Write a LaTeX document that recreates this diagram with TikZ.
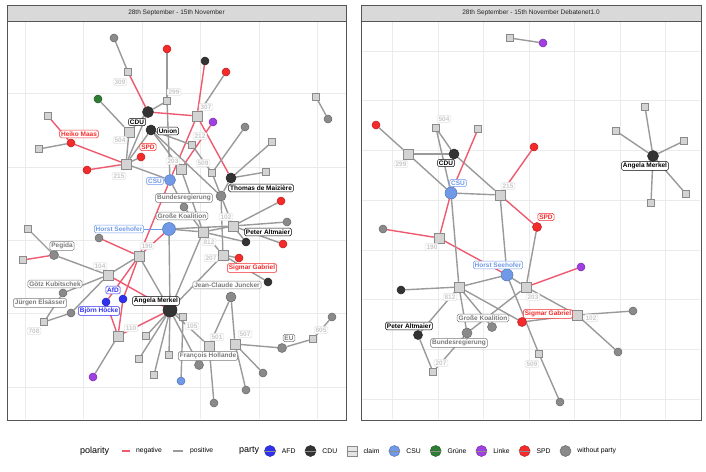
\documentclass[tikz,border=0pt]{standalone}
\usepackage{fontspec}
\setmainfont{Liberation Sans}
\usetikzlibrary{positioning}
\pgfdeclarelayer{back}
\pgfdeclarelayer{edges}
\pgfsetlayers{back,edges,main}

\definecolor{negcol}{HTML}{EE5A6F}
\definecolor{poscol}{HTML}{9A9A9A}
\definecolor{afdcol}{HTML}{3030F0}
\definecolor{cducol}{HTML}{333333}
\definecolor{csucol}{HTML}{7099E8}
\definecolor{gruencol}{HTML}{2E7D32}
\definecolor{linkecol}{HTML}{A040E0}
\definecolor{spdcol}{HTML}{F52A2A}
\definecolor{nopcol}{HTML}{8A8A8A}
\definecolor{claimfill}{HTML}{D3D3D3}
\definecolor{claimdraw}{HTML}{8A8A8A}
\definecolor{numtext}{HTML}{C8C8C8}
\definecolor{numdraw}{HTML}{E2E2E2}
\definecolor{gridcol}{HTML}{EBEBEB}
\definecolor{stripcol}{HTML}{D9D9D9}
\definecolor{framecol}{HTML}{555555}
\definecolor{greytext}{HTML}{7A7A7A}

\tikzset{
  claim/.style={rectangle, draw=claimdraw, fill=claimfill, line width=0.5pt, minimum size=7pt, inner sep=0pt},
  bigclaim/.style={claim, minimum size=10pt},
  party/.style={circle, draw=#1!75!black, fill=#1, line width=0.5pt, minimum size=8pt, inner sep=0pt},
  negline/.style={draw=negcol, line width=1.4pt},
  posline/.style={draw=poscol, line width=1.4pt},
  tag/.style={draw=#1, text=#1, fill=white, rounded corners=1.5pt, line width=0.5pt,
    font=\bfseries\fontsize{6.5}{7}\selectfont, inner sep=1.4pt},
  numtag/.style={tag=numtext, draw=numdraw},
  gridline/.style={draw=gridcol, line width=0.6pt},
  legtext/.style={font=\fontsize{6.8}{7}\selectfont, inner sep=0pt, anchor=west},
  legtitle/.style={font=\fontsize{9}{10}\selectfont, inner sep=0pt, anchor=west},
  legkey/.style={minimum size=11pt, right=9pt of #1},
  keybar/.style={draw=black!45, line width=0.4pt},
}

\begin{document}
\begin{tikzpicture}[x=1pt,y=-1pt]
\useasboundingbox (0,0) rectangle (706,471);

% panels and grid
\begin{pgfonlayer}{back}
\fill[white] (0,0) rectangle (706,471);
\draw[gridline] (25,21) -- (25,419);
\draw[gridline] (83,21) -- (83,419);
\draw[gridline] (142,21) -- (142,419);
\draw[gridline] (200,21) -- (200,419);
\draw[gridline] (259,21) -- (259,419);
\draw[gridline] (317,21) -- (317,419);
\draw[gridline] (8,93) -- (346,93);
\draw[gridline] (8,167) -- (346,167);
\draw[gridline] (8,240) -- (346,240);
\draw[gridline] (8,313) -- (346,313);
\draw[gridline] (8,387) -- (346,387);
\draw[gridline] (392,21) -- (392,419);
\draw[gridline] (438,21) -- (438,419);
\draw[gridline] (483,21) -- (483,419);
\draw[gridline] (529,21) -- (529,419);
\draw[gridline] (574,21) -- (574,419);
\draw[gridline] (620,21) -- (620,419);
\draw[gridline] (665,21) -- (665,419);
\draw[gridline] (362,51) -- (700,51);
\draw[gridline] (362,100) -- (700,100);
\draw[gridline] (362,150) -- (700,150);
\draw[gridline] (362,200) -- (700,200);
\draw[gridline] (362,250) -- (700,250);
\draw[gridline] (362,299) -- (700,299);
\draw[gridline] (362,349) -- (700,349);
\draw[gridline] (362,399) -- (700,399);
\draw[framecol, line width=0.8pt] (7,5) rectangle (346,420);
\draw[framecol, line width=0.8pt, fill=stripcol] (7,5) rectangle (346,21);
\draw[framecol, line width=0.8pt] (361,5) rectangle (701,420);
\draw[framecol, line width=0.8pt, fill=stripcol] (361,5) rectangle (701,21);
\end{pgfonlayer}
\node[font=\fontsize{6.5}{7}\selectfont, text=black!85] (headl) at (176.5,13) {28th September - 15th November};
\node[font=\fontsize{6.5}{7}\selectfont, text=black!85] (headr) at (531,13) {28th September - 15th November Debatenet1.0};

% left panel nodes
\node[party=nopcol] (g1) at (114,38) {};
\node[party=spdcol] (r1) at (167,49) {};
\node[party=cducol] (k1) at (205,61) {};
\node[party=spdcol] (r2) at (226,72) {};
\node[claim] (c309) at (128,72) {};
\node[claim] (c299) at (167,101) {};
\node[party=gruencol] (gr1) at (98,99) {};
\node[party=cducol, minimum size=11pt] (cdu) at (148,112) {};
\node[bigclaim] (c307) at (197,116) {};
\node[party=linkecol] (p1) at (213,122) {};
\node[party=nopcol] (g2) at (245,127) {};
\node[claim] (s1) at (316,97) {};
\node[party=nopcol] (g3) at (328,119) {};
\node[claim] (s2) at (48,116) {};
\node[party=cducol, minimum size=10pt] (union) at (151,130) {};
\node[bigclaim] (c504) at (129,132) {};
\node[claim] (c212) at (192,145) {};
\node[party=spdcol] (heiko) at (71,143) {};
\node[claim] (s3) at (39,149) {};
\node[party=spdcol] (spd) at (141,157) {};
\node[bigclaim] (c215) at (126,164) {};
\node[party=spdcol] (r3) at (87,170) {};
\node[bigclaim] (c203) at (181,169) {};
\node[claim] (c509) at (212,173) {};
\node[party=cducol, minimum size=10pt] (thomas) at (231,178) {};
\node[claim] (s4) at (272,142) {};
\node[claim] (s5) at (266,172) {};
\node[party=csucol, minimum size=11pt] (csu) at (170,180) {};
\node[party=nopcol, minimum size=10pt] (bund) at (221,196) {};
\node[party=nopcol] (g4) at (184,207) {};
\node[party=spdcol] (r4) at (281,201) {};
\node[bigclaim] (c102) at (233,226) {};
\node[party=nopcol] (g5) at (287,222) {};
\node[party=csucol, minimum size=13pt] (horst) at (169,229) {};
\node[bigclaim] (c812) at (203,232) {};
\node[party=cducol] (peter) at (246,242) {};
\node[party=spdcol] (r5) at (283,244) {};
\node[claim] (s6) at (28,229) {};
\node[party=nopcol] (g6) at (99,238) {};
\node[party=nopcol, minimum size=9pt] (pegida) at (54,255) {};
\node[claim] (s7) at (23,260) {};
\node[bigclaim] (c190) at (139,256) {};
\node[bigclaim] (c207) at (223,255) {};
\node[party=spdcol] (sigmar) at (239,258) {};
\node[bigclaim] (c104) at (108,275) {};
\node[party=cducol] (k2) at (268,282) {};
\node[party=nopcol, minimum size=10pt] (juncker) at (231,297) {};
\node[party=nopcol] (goetz) at (63,293) {};
\node[party=afdcol] (afd) at (123,299) {};
\node[party=afdcol] (hoecke) at (106,302) {};
\node[party=cducol, minimum size=14pt] (merkel) at (170,310) {};
\node[party=nopcol] (juergen) at (71,313) {};
\node[claim] (c105) at (183,317) {};
\node[claim] (c708) at (44,322) {};
\node[party=nopcol] (g7) at (332,317) {};
\node[bigclaim] (c110) at (118,336) {};
\node[claim] (s8) at (146,336) {};
\node[bigclaim] (c501) at (209,346) {};
\node[bigclaim] (c507) at (235,344) {};
\node[party=nopcol, minimum size=9pt] (eu) at (282,348) {};
\node[claim] (c805) at (313,339) {};
\node[claim] (s9) at (139,359) {};
\node[claim] (s10) at (169,355) {};
\node[party=nopcol, minimum size=9pt] (hollande) at (199,365) {};
\node[party=nopcol] (g8) at (263,373) {};
\node[claim] (s11) at (154,375) {};
\node[party=linkecol] (p2) at (93,377) {};
\node[party=csucol] (b1) at (181,381) {};
\node[party=nopcol] (g9) at (246,390) {};
\node[party=nopcol] (g10) at (214,403) {};

% left panel edges
\begin{pgfonlayer}{edges}
\draw[posline] (g1) -- (c309);
\draw[negline] (c309) -- (cdu);
\draw[posline] (r1) -- (c299);
\draw[posline] (c299) -- (cdu);
\draw[posline] (c299) -- (csu);
\draw[negline] (k1) -- (c307);
\draw[posline] (r2) -- (c307);
\draw[negline] (cdu) -- (c307);
\draw[negline] (c307) -- (thomas);
\draw[negline] (c307) -- (csu);
\draw[negline] (p1) -- (c203);
\draw[posline] (gr1) -- (c504);
\draw[posline] (g2) -- (c509);
\draw[posline] (s4) -- (thomas);
\draw[posline] (s5) -- (thomas);
\draw[posline] (s1) -- (g3);
\draw[negline] (heiko) -- (s2);
\draw[posline] (heiko) -- (s3);
\draw[negline] (heiko) -- (c215);
\draw[negline] (r3) -- (c215);
\draw[posline] (spd) -- (c215);
\draw[posline] (c215) -- (cdu);
\draw[posline] (c504) -- (cdu);
\draw[posline] (c504) -- (c215);
\draw[posline] (c215) -- (union);
\draw[posline] (union) -- (c212);
\draw[posline] (union) -- (c203);
\draw[posline] (union) -- (bund);
\draw[posline] (c215) -- (csu);
\draw[posline] (c212) -- (c509);
\draw[posline] (c509) -- (bund);
\draw[posline] (bund) -- (thomas);
\draw[posline] (c203) -- (c812);
\draw[posline] (csu) -- (g4);
\draw[posline] (g4) -- (c812);
\draw[posline] (horst) -- (c812);
\draw[negline] (horst) -- (c190);
\draw[posline] (horst) -- (merkel);
\draw[posline] (horst) -- (c102);
\draw[negline] (csu) -- (c190);
\draw[negline] (g6) -- (c190);
\draw[posline] (c190) -- (c104);
\draw[negline] (c190) -- (afd);
\draw[negline] (c190) -- (hoecke);
\draw[posline] (c190) -- (merkel);
\draw[negline] (c104) -- (merkel);
\draw[posline] (c104) -- (goetz);
\draw[posline] (c104) -- (juergen);
\draw[posline] (pegida) -- (s6);
\draw[negline] (pegida) -- (s7);
\draw[posline] (pegida) -- (c104);
\draw[posline] (juergen) -- (c708);
\draw[posline] (goetz) -- (c708);
\draw[negline] (afd) -- (c110);
\draw[negline] (hoecke) -- (c110);
\draw[negline] (c110) -- (merkel);
\draw[posline] (c110) -- (p2);
\draw[posline] (merkel) -- (s8);
\draw[posline] (merkel) -- (s9);
\draw[posline] (merkel) -- (s10);
\draw[posline] (merkel) -- (s11);
\draw[posline] (merkel) -- (c105);
\draw[posline] (merkel) -- (c501);
\draw[posline] (merkel) -- (hollande);
\draw[posline] (merkel) -- (c812);
\draw[posline] (merkel) -- (c207);
\draw[posline] (c105) -- (b1);
\draw[posline] (juncker) -- (c501);
\draw[posline] (juncker) -- (c507);
\draw[posline] (c507) -- (eu);
\draw[posline] (eu) -- (c805);
\draw[posline] (c805) -- (g7);
\draw[posline] (c507) -- (g8);
\draw[posline] (c507) -- (g9);
\draw[posline] (c501) -- (g10);
\draw[posline] (c102) -- (g5);
\draw[posline] (c102) -- (r4);
\draw[posline] (c102) -- (peter);
\draw[posline] (c102) -- (r5);
\draw[posline] (c812) -- (peter);
\draw[posline] (c812) -- (c102);
\draw[posline] (c207) -- (sigmar);
\draw[posline] (c207) -- (k2);
\draw[posline] (c812) -- (c207);
\draw[posline] (bund) -- (c207);
\draw[posline] (bund) -- (c102);
\end{pgfonlayer}

% left panel labels
\node[numtag] (t309) at (120,82) {309};
\node[numtag] (t299) at (174,92) {299};
\node[numtag] (t307) at (206,107) {307};
\node[tag=black] (tcdu) at (137,122) {CDU};
\node[tag=black] (tunion) at (168,131) {Union};
\node[numtag] (t504) at (120,140) {504};
\node[tag=spdcol] (theiko) at (79,134) {Heiko Maas};
\node[numtag] (t212) at (200,136) {212};
\node[tag=spdcol] (tspd) at (148,147) {SPD};
\node[numtag] (t215) at (119,176) {215};
\node[numtag] (t203) at (173,161) {203};
\node[numtag] (t509) at (203,163) {509};
\node[tag=csucol] (tcsu) at (155,181) {CSU};
\node[tag=black] (tthomas) at (261,188) {Thomas de Maizière};
\node[tag=greytext] (tbund) at (184,198) {Bundesregierung};
\node[tag=greytext] (tgk) at (182,216) {Große Koalition};
\node[numtag] (t102) at (226,217) {102};
\node[tag=csucol] (thorst) at (119,229) {Horst Seehofer};
\node[numtag] (t812) at (209,242) {812};
\node[tag=black] (tpeter) at (268,232) {Peter Altmaier};
\node[tag=greytext] (tpegida) at (62,246) {Pegida};
\node[numtag] (t190) at (147,246) {190};
\node[numtag] (t207) at (211,258) {207};
\node[tag=spdcol] (tsigmar) at (252,268) {Sigmar Gabriel};
\node[numtag] (t104) at (100,266) {104};
\node[tag=greytext] (tjuncker) at (227,285) {Jean-Claude Juncker};
\node[tag=greytext] (tgoetz) at (55,284) {Götz Kubitschek};
\node[tag=afdcol] (tafd) at (113,290) {AfD};
\node[tag=black] (tmerkel) at (156,301) {Angela Merkel};
\node[tag=greytext] (tjuergen) at (40,303) {Jürgen Elsässer};
\node[tag=afdcol] (thoecke) at (99,311) {Björn Höcke};
\node[numtag] (t708) at (34,331) {708};
\node[numtag] (t110) at (131,328) {110};
\node[numtag] (t105) at (192,326) {105};
\node[numtag] (t501) at (217,337) {501};
\node[numtag] (t507) at (245,334) {507};
\node[tag=greytext] (teu) at (289,338) {EU};
\node[numtag] (t805) at (321,330) {805};
\node[tag=greytext] (thollande) at (208,356) {François Hollande};
\draw[csucol, line width=0.5pt] (thorst) -- (horst);

% right panel nodes
\node[claim] (rt1) at (510,38) {};
\node[party=linkecol] (rtp) at (543,43) {};
\node[party=spdcol] (rr1) at (376,125) {};
\node[claim] (rc504) at (436,128) {};
\node[claim] (rs1) at (478,129) {};
\node[party=spdcol] (rr2) at (534,147) {};
\node[bigclaim] (rc299) at (408,154) {};
\node[party=cducol, minimum size=10pt] (rcdu) at (454,154) {};
\node[party=csucol, minimum size=12pt] (rcsu) at (451,193) {};
\node[bigclaim] (rc215) at (500,195) {};
\node[claim] (rm1) at (645,107) {};
\node[claim] (rm2) at (616,131) {};
\node[claim] (rm3) at (684,141) {};
\node[party=cducol, minimum size=11pt] (rmerkel) at (653,156) {};
\node[claim] (rm4) at (686,194) {};
\node[claim] (rm5) at (651,203) {};
\node[party=spdcol, minimum size=9pt] (rspd) at (537,227) {};
\node[party=nopcol] (rg1) at (383,229) {};
\node[bigclaim] (rc190) at (439,238) {};
\node[party=csucol, minimum size=12pt] (rhorst) at (507,275) {};
\node[party=linkecol] (rp1) at (581,267) {};
\node[party=cducol] (rk1) at (401,290) {};
\node[bigclaim] (rc812) at (459,287) {};
\node[bigclaim] (rc203) at (526,287) {};
\node[party=cducol, minimum size=9pt] (rpeter) at (418,335) {};
\node[claim] (rc207) at (433,372) {};
\node[party=nopcol, minimum size=10pt] (rbund) at (467,333) {};
\node[party=nopcol, minimum size=9pt] (rgk) at (492,327) {};
\node[party=spdcol, minimum size=9pt] (rsigmar) at (522,322) {};
\node[bigclaim] (rc102) at (577,315) {};
\node[party=nopcol] (rg2) at (633,311) {};
\node[party=nopcol] (rg3) at (618,352) {};
\node[claim] (rc509) at (539,354) {};
\node[party=nopcol] (rg4) at (560,402) {};

% right panel edges
\begin{pgfonlayer}{edges}
\draw[posline] (rt1) -- (rtp);
\draw[posline] (rr1) -- (rc299);
\draw[posline] (rc299) -- (rcdu);
\draw[posline] (rc299) -- (rcsu);
\draw[posline] (rc504) -- (rcdu);
\draw[posline] (rc504) -- (rcsu);
\draw[posline] (rcdu) -- (rc215);
\draw[negline] (rs1) -- (rcsu);
\draw[negline] (rr2) -- (rc215);
\draw[posline] (rcsu) -- (rc215);
\draw[negline] (rc215) -- (rspd);
\draw[posline] (rmerkel) -- (rm1);
\draw[posline] (rmerkel) -- (rm2);
\draw[posline] (rmerkel) -- (rm3);
\draw[posline] (rmerkel) -- (rm4);
\draw[posline] (rmerkel) -- (rm5);
\draw[negline] (rcsu) -- (rc190);
\draw[negline] (rg1) -- (rc190);
\draw[negline] (rc190) -- (rhorst);
\draw[posline] (rcsu) -- (rc812);
\draw[posline] (rc215) -- (rhorst);
\draw[posline] (rhorst) -- (rc812);
\draw[posline] (rhorst) -- (rc203);
\draw[posline] (rhorst) -- (rc509);
\draw[posline] (rc509) -- (rg4);
\draw[negline] (rp1) -- (rc203);
\draw[posline] (rspd) -- (rc203);
\draw[posline] (rk1) -- (rc812);
\draw[posline] (rc812) -- (rpeter);
\draw[posline] (rpeter) -- (rc207);
\draw[posline] (rc203) -- (rbund);
\draw[posline] (rbund) -- (rc207);
\draw[posline] (rc812) -- (rgk);
\draw[posline] (rc812) -- (rsigmar);
\draw[posline] (rc812) -- (rbund);
\draw[posline] (rsigmar) -- (rc102);
\draw[posline] (rc102) -- (rg2);
\draw[posline] (rc203) -- (rc102);
\draw[posline] (rc102) -- (rg3);
\end{pgfonlayer}

% right panel labels
\node[numtag] (rt504) at (444,119) {504};
\node[numtag] (rt299) at (401,164) {299};
\node[tag=black] (rtcdu) at (446,163) {CDU};
\node[tag=csucol] (rtcsu) at (458,183) {CSU};
\node[numtag] (rt215) at (508,186) {215};
\node[tag=black] (rtmerkel) at (645,166) {Angela Merkel};
\node[tag=spdcol] (rtspd) at (546,217) {SPD};
\node[numtag] (rt190) at (432,247) {190};
\node[tag=csucol] (rthorst) at (498,265) {Horst Seehofer};
\node[numtag] (rt812) at (450,297) {812};
\node[numtag] (rt203) at (533,297) {203};
\node[tag=black] (rtpeter) at (409,326) {Peter Altmaier};
\node[tag=greytext] (rtgk) at (483,318) {Große Koalition};
\node[tag=spdcol] (rtsigmar) at (548,314) {Sigmar Gabriel};
\node[numtag] (rt102) at (591,318) {102};
\node[tag=greytext] (rtbund) at (459,343) {Bundesregierung};
\node[numtag] (rt207) at (441,363) {207};
\node[numtag] (rt509) at (532,364) {509};

% legend
\node[legtitle] (polarity) at (80,451) {polarity};
\draw[negcol, line width=1.2pt] (122,451) -- (130,451);
\node[legtext] (negative) at (136,451) {negative};
\draw[poscol, line width=1.2pt] (173,451) -- (183,451);
\node[legtext] (positive) at (190,451) {positive};
\node[legtitle] (partytitle) at (239,451) {party};
\node[party=afdcol, minimum size=11pt] (kafd) at (270,451) {};
\node[legtext, right=6pt of kafd] (lafd) {AFD};
\node[party=cducol, legkey=lafd] (kcdu) {};
\node[legtext, right=6pt of kcdu] (lcdu) {CDU};
\node[claim, fill=claimfill!60, minimum size=10pt, right=9.5pt of lcdu] (kclaim) {};
\node[legtext, right=6pt of kclaim] (lclaim) {claim};
\node[party=csucol, legkey=lclaim] (kcsu) {};
\node[legtext, right=6pt of kcsu] (lcsu) {CSU};
\node[party=gruencol, legkey=lcsu] (kgruen) {};
\node[legtext, right=6pt of kgruen] (lgruen) {Grüne};
\node[party=linkecol, legkey=lgruen] (klinke) {};
\node[legtext, right=6pt of klinke] (llinke) {Linke};
\node[party=spdcol, legkey=llinke] (kspd) {};
\node[legtext, right=6pt of kspd] (lspd) {SPD};
\node[party=nopcol, legkey=lspd] (knop) {};
\node[legtext, right=6pt of knop] (lnop) {without party};
\draw[keybar] (kafd.west) -- (kafd.east);
\draw[keybar] (kcdu.west) -- (kcdu.east);
\draw[keybar] (kclaim.west) -- (kclaim.east);
\draw[keybar] (kcsu.west) -- (kcsu.east);
\draw[keybar] (kgruen.west) -- (kgruen.east);
\draw[keybar] (klinke.west) -- (klinke.east);
\draw[keybar] (kspd.west) -- (kspd.east);
\draw[keybar] (knop.west) -- (knop.east);
\end{tikzpicture}
\end{document}
